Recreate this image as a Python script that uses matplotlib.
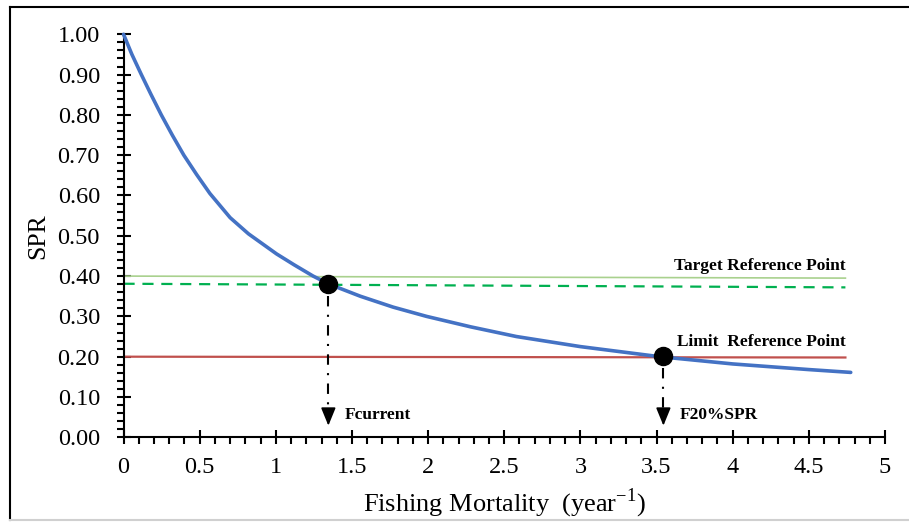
import matplotlib.pyplot as plt
from matplotlib.lines import Line2D
from matplotlib.ticker import MultipleLocator, FormatStrFormatter

plt.rcParams['font.family'] = ['Liberation Serif', 'DejaVu Serif']
plt.rcParams['mathtext.fontset'] = 'custom'
plt.rcParams['mathtext.rm'] = 'Liberation Serif'

# SPR curve
fishing_mortality = [0, 0.055, 0.117, 0.18, 0.248, 0.32, 0.396, 0.48, 0.567,
                     0.70, 0.82, 1.005, 1.12, 1.245, 1.35, 1.555, 1.77, 1.99,
                     2.28, 2.58, 3.0, 3.52, 4.0, 4.5, 4.775]
spr = [1.0, 0.95, 0.90, 0.851, 0.80, 0.75, 0.70, 0.652, 0.605,
       0.545, 0.505, 0.455, 0.428, 0.40, 0.38, 0.35, 0.323, 0.30,
       0.274, 0.25, 0.225, 0.20, 0.182, 0.168, 0.161]

# reference lines (start, end)
line_x = [0, 4.74]
target_solid = [0.400, 0.395]
target_dashed = [0.381, 0.372]
limit_line = [0.200, 0.198]

# reference points
point_f = [1.345, 3.545]
point_spr = [0.380, 0.201]
point_names = ['Fcurrent', 'F20%SPR']

fig = plt.figure(figsize=(9.09, 5.23), dpi=100)
ax = fig.add_axes([0.1359, 0.1639, 0.8377, 0.7705])

ax.plot(line_x, target_solid, color='#A9D18E', lw=1.2)
ax.plot(line_x, target_dashed, color='#00B050', lw=1.6, dashes=(5, 3.5))
ax.plot(line_x, limit_line, color='#C0504D', lw=1.6)
ax.plot(fishing_mortality, spr, color='#4472C4', lw=2.6, clip_on=False,
        solid_joinstyle='round', solid_capstyle='round', zorder=3)
ax.plot(point_f, point_spr, 'o', color='black', ms=13, zorder=4)

# dash-dot drop lines with arrow heads
for f, s, name in zip(point_f, point_spr, point_names):
    ax.plot([f, f], [s - 0.03, 0.06], color='black', lw=1.5,
            linestyle=(0, (5, 4, 1, 4)))
    ax.annotate('', xy=(f, 0.022), xytext=(f, 0.058),
                arrowprops=dict(arrowstyle='-|>,head_width=0.45,head_length=1.1',
                                color='black', lw=1.2))
    ax.text(f + 0.11, 0.055, name, fontsize=12.5, fontweight='bold',
            ha='left', va='center')

ax.text(4.74, 0.426, 'Target Reference Point', fontsize=12.5, fontweight='bold',
        ha='right', va='center')
ax.text(4.74, 0.237, 'Limit  Reference Point', fontsize=12.5, fontweight='bold',
        ha='right', va='center')

ax.set_xlim(0, 5)
ax.set_ylim(0, 1.0)
ax.spines['top'].set_visible(False)
ax.spines['right'].set_visible(False)
for s in ['left', 'bottom']:
    ax.spines[s].set_linewidth(1.5)

ax.xaxis.set_minor_locator(MultipleLocator(0.1))
ax.yaxis.set_major_locator(MultipleLocator(0.1))
ax.yaxis.set_minor_locator(MultipleLocator(0.02))
ax.yaxis.set_major_formatter(FormatStrFormatter('%.2f'))
ax.set_xticks([0, 0.5, 1, 1.5, 2, 2.5, 3, 3.5, 4, 4.5, 5])
ax.set_xticklabels(['0', '0.5', '1', '1.5', '2', '2.5', '3', '3.5', '4', '4.5', '5'])
ax.tick_params(which='major', direction='inout', length=10, width=1.5,
               labelsize=17.5)
ax.tick_params(axis='y', which='major', pad=12)
ax.tick_params(axis='x', which='major', pad=9)
ax.tick_params(which='minor', direction='out', length=5, width=1.5)

ax.set_ylabel('SPR', fontsize=18.5, labelpad=6)
ax.set_xlabel('Fishing Mortality  (year$^{\\mathrm{-1}}$)', fontsize=19, labelpad=6)

# outer frame
fig.add_artist(Line2D([0.011, 1.0], [0.9866, 0.9866], color='black', lw=1.5))
fig.add_artist(Line2D([0.011, 0.011], [0.9866, 0.005], color='black', lw=1.5))
fig.add_artist(Line2D([0.011, 1.0], [0.005, 0.005], color='#D0D0D0', lw=1.5))

fig.savefig('out.png', dpi=100)
